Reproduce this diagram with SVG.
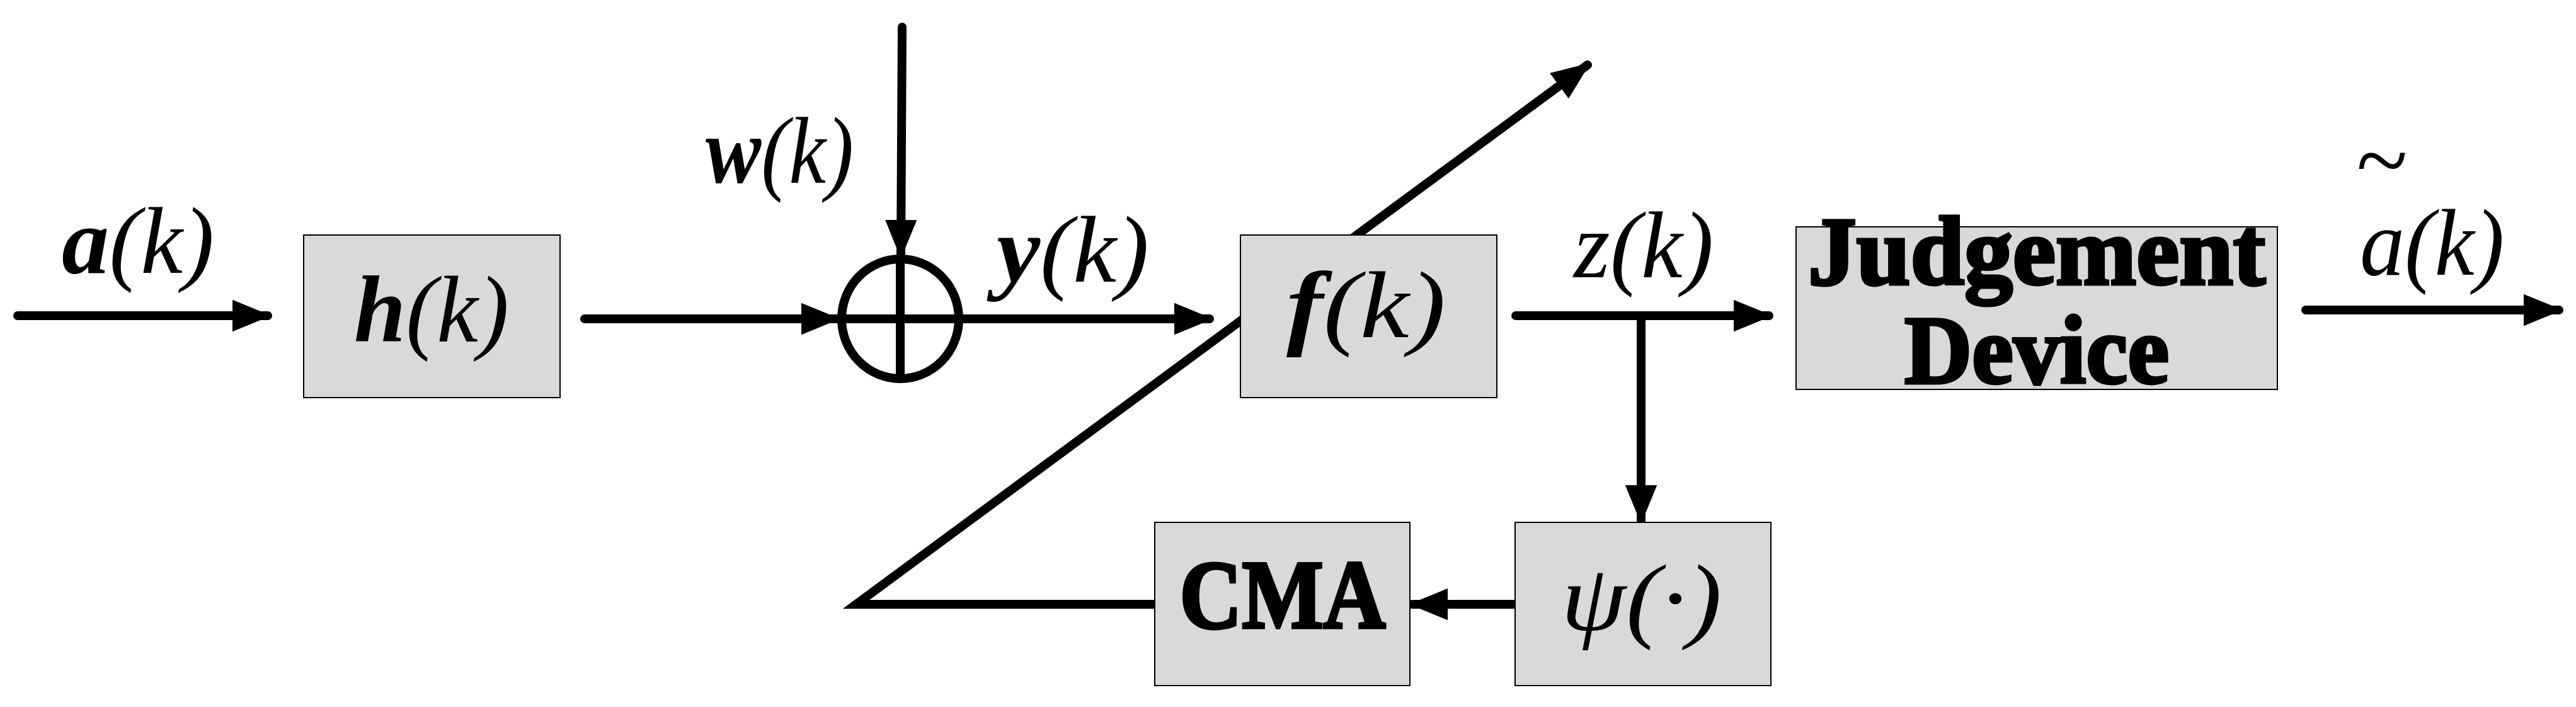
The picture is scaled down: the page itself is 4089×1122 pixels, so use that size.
<svg xmlns="http://www.w3.org/2000/svg" width="4089" height="1122" viewBox="0 0 4089 1122">
<style>
.box{fill:#d9d9d9;stroke:#000;stroke-width:2}
.ln{stroke:#000;stroke-width:14;fill:none;stroke-linecap:round}
.m{font-family:"Liberation Serif",serif;font-style:italic;font-size:150px;fill:#000}
.b{font-weight:bold}
.t{font-family:"Liberation Serif",serif;font-weight:900;font-size:155px;fill:#000;stroke:#000;stroke-width:5}
</style>
<defs>
<marker id="ah" markerWidth="6" markerHeight="5" viewBox="0 0 6 5" refX="4" refY="1.8" orient="auto">
<path d="M0,0 L4.4,1.8 L0,3.6 Z" fill="#000"/>
</marker>
</defs>
<rect width="4089" height="1122" fill="#fff"/>
<g id="connectors">
<line class="ln" x1="28" y1="501" x2="425" y2="501" marker-end="url(#ah)"/>
<line class="ln" x1="928" y1="506" x2="1328" y2="506" marker-end="url(#ah)"/>
<line class="ln" x1="1432" y1="43" x2="1430" y2="405" marker-end="url(#ah)"/>
<line class="ln" x1="1525" y1="506" x2="1920" y2="506" marker-end="url(#ah)"/>
<polyline class="ln" points="1833,959 1359,959 2520,103" marker-end="url(#ah)"/>
<line class="ln" x1="2406" y1="501" x2="2808" y2="501" marker-end="url(#ah)"/>
<line class="ln" x1="2605" y1="501" x2="2605" y2="826" marker-end="url(#ah)"/>
<line class="ln" x1="2403" y1="959" x2="2242" y2="959" marker-end="url(#ah)"/>
<line class="ln" x1="3660" y1="492" x2="4062" y2="492" marker-end="url(#ah)"/>
</g>
<g id="sum">
<ellipse cx="1429" cy="506" rx="93" ry="95" fill="none" stroke="#000" stroke-width="14"/>
<line class="ln" x1="1429" y1="411" x2="1429" y2="601"/>
<line class="ln" x1="1336" y1="506" x2="1522" y2="506"/>
</g>
<g id="h"><rect class="box" x="482" y="373" width="407" height="258"/><text class="m" x="562" y="542" textLength="246" lengthAdjust="spacingAndGlyphs"><tspan class="b">h</tspan>(k)</text></g>
<g id="f"><rect class="box" x="1969" y="373" width="407" height="258"/><text class="m" x="2042" y="535" textLength="253" lengthAdjust="spacingAndGlyphs"><tspan class="b">f</tspan>(k)</text></g>
<g id="judge"><rect class="box" x="2851" y="360" width="764" height="258"/>
<text class="t" x="3233" y="451" text-anchor="middle" textLength="726" lengthAdjust="spacingAndGlyphs">Judgement</text>
<text class="t" x="3233" y="608" text-anchor="middle" textLength="420" lengthAdjust="spacingAndGlyphs">Device</text></g>
<g id="cma"><rect class="box" x="1833" y="829" width="405" height="259"/><text class="t" x="2036" y="996" text-anchor="middle" textLength="327" lengthAdjust="spacingAndGlyphs">CMA</text></g>
<g id="psi"><rect class="box" x="2405" y="829" width="406" height="259"/><text class="m" x="2478" y="1000" textLength="255" lengthAdjust="spacingAndGlyphs">ψ(·)</text></g>
<g id="labels">
<text class="m" x="98" y="433" textLength="242" lengthAdjust="spacingAndGlyphs"><tspan class="b">a</tspan>(k)</text>
<text class="m" x="1120" y="290" textLength="235" lengthAdjust="spacingAndGlyphs"><tspan class="b">w</tspan>(k)</text>
<text class="m" x="1582" y="447" textLength="242" lengthAdjust="spacingAndGlyphs"><tspan class="b">y</tspan>(k)</text>
<text class="m" x="2498" y="440" textLength="222" lengthAdjust="spacingAndGlyphs">z(k)</text>
<text class="m" x="3746" y="436" textLength="229" lengthAdjust="spacingAndGlyphs">a(k)</text>
<text class="m" x="3779" y="305" text-anchor="middle" font-size="60">~</text>
</g>
</svg>
